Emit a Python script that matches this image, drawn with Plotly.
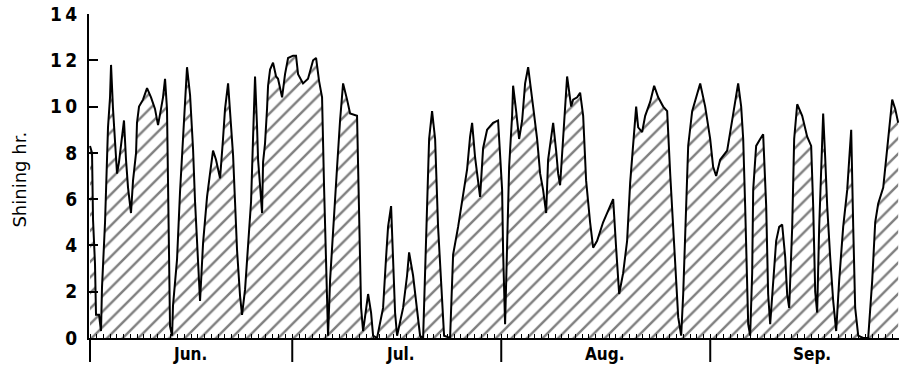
import plotly.graph_objects as go

# Daily sunshine duration, June to September (day 0 = 1 June)
day = [0, 0.30, 0.45, 0.74, 0.89, 1.34, 1.63, 1.78, 2.23, 2.52, 2.67, 2.97, 3.12, 3.41, 3.71,
       4.01, 4.30, 4.75, 5.04, 5.34, 5.64, 6.08, 6.38, 6.83, 6.97, 7.27, 7.86, 8.46, 9.05, 9.64,
       10.09, 10.53, 10.83, 11.13, 11.42, 11.87, 12.17, 12.31, 12.91, 13.35, 13.80, 14.10, 14.39,
       14.84, 15.28, 15.58, 16.02, 16.32, 16.77, 17.36, 17.80, 18.25, 18.69, 19.29, 19.73, 20.03,
       20.48, 20.77, 21.22, 21.51, 21.81, 22.26, 22.55, 23.00, 23.44, 23.89, 24.18, 24.33, 24.48,
       24.78, 24.93, 25.22, 25.52, 25.67, 25.96, 26.26, 26.41, 26.71, 27.15, 27.60, 27.89, 28.49,
       28.93, 29.38, 30.12, 30.56, 30.86, 31.60, 32.34, 33.09, 33.53, 33.98, 34.42, 34.72, 35.16,
       35.31, 35.61, 36.05, 36.65, 37.09, 37.54, 38.13, 38.58, 39.61, 39.91, 40.21, 40.51, 40.95,
       41.25, 41.69, 41.99, 42.58, 43.47, 43.92, 44.21, 44.66, 44.96, 45.25, 45.55, 46.44, 47.03,
       47.33, 47.92, 48.52, 48.96, 49.41, 50.00, 50.30, 50.74, 51.19, 51.63, 52.23, 52.52, 53.41,
       53.86, 54.60, 55.34, 55.94, 56.38, 56.68, 57.12, 57.57, 57.86, 58.31, 58.90, 59.79, 60.53,
       61.13, 61.28, 61.57, 61.87, 62.17, 62.61, 62.76, 63.21, 63.65, 64.10, 64.54, 64.99, 65.28,
       65.73, 66.32, 66.77, 67.21, 67.66, 67.95, 68.40, 68.70, 69.14, 69.44, 69.73, 70.18, 70.48,
       70.77, 71.37, 71.66, 72.26, 72.70, 73.15, 73.59, 74.18, 74.63, 75.22, 76.11, 77.15, 77.60,
       78.04, 78.49, 79.08, 79.67, 80.12, 80.56, 81.01, 81.31, 81.90, 82.35, 83.09, 83.68, 84.28,
       85.02, 85.61, 86.06, 86.50, 86.95, 87.25, 87.69, 87.99, 88.43, 88.73, 89.32, 90.06, 90.51,
       91.25, 91.99, 92.43, 92.88, 93.47, 94.51, 95.25, 96.00, 96.14, 96.59, 96.89, 97.18, 97.48,
       97.63, 97.92, 98.22, 98.37, 98.81, 99.41, 99.85, 100.30, 100.59, 100.89, 101.34, 101.78,
       102.23, 102.67, 103.12, 103.41, 103.71, 104.16, 104.45, 104.90, 105.64, 106.38, 106.97,
       107.27, 107.57, 107.86, 108.16, 108.46, 108.75, 109.05, 109.35, 109.79, 110.24, 110.68,
       111.13, 111.72, 112.32, 112.61, 112.91, 113.21, 113.50, 113.95, 114.69, 115.43, 116.03,
       116.47, 116.91, 117.66, 118.10, 118.55, 118.99, 119.44, 119.88]

hours = [8.3, 8.0, 5.1, 3.2, 1.0, 1.0, 0.3, 2.2, 5.0, 7.7, 9.1, 10.4, 11.8, 9.9, 8.6,
         7.1, 7.6, 8.7, 9.4, 7.7, 6.5, 5.4, 6.8, 8.0, 9.3, 10.0, 10.3, 10.8, 10.4, 9.9,
         9.2, 9.9, 10.4, 11.2, 9.9, 0.5, 0.1, 1.4, 3.4, 6.3, 8.5, 10.5, 11.7,
         10.5, 8.2, 5.9, 2.9, 1.6, 4.1, 6.1, 7.1, 8.1, 7.7, 6.9, 8.6, 9.9,
         11.0, 9.7, 7.9, 5.9, 3.8, 1.8, 1.0, 2.1, 3.8, 5.9, 8.6, 10.1, 11.3,
         9.1, 7.7, 6.6, 5.4, 7.6, 8.4, 9.9, 10.9, 11.6, 11.9, 11.3, 11.2, 10.4,
         11.4, 12.1, 12.2, 12.2, 11.4, 11.0, 11.2, 12.0, 12.1, 11.1, 10.4, 6.5, 1.3,
         0.1, 2.5, 4.8, 7.4, 9.4, 11.0, 10.3, 9.7, 9.6, 4.8, 1.3, 0.3, 1.3,
         1.9, 1.1, 0.1, 0.0, 1.3, 3.5, 4.8, 5.7, 3.6, 1.1, 0.1, 1.3, 2.7,
         3.7, 2.7, 1.3, 0.1, 0.0, 6.0, 8.6, 9.8, 8.6, 4.8, 1.3, 0.1, 0.0,
         3.6, 4.8, 6.3, 7.3, 8.7, 9.3, 7.8, 6.8, 6.1, 8.2, 9.0, 9.3, 9.4,
         6.4, 3.7, 0.6, 4.2, 7.4, 9.6, 10.9, 9.8, 8.6, 9.4, 11.0, 11.7, 11.1,
         10.0, 8.6, 7.1, 6.4, 5.4, 7.7, 8.6, 9.3, 8.1, 7.1, 6.6, 8.6, 10.0,
         11.3, 10.0, 10.3, 10.4, 10.6, 9.6, 6.8, 5.0, 3.9, 4.2, 5.0, 5.7, 6.0,
         3.9, 1.9, 2.8, 4.2, 6.7, 8.4, 10.0, 9.1, 8.9, 9.6, 10.2, 10.9, 10.4,
         10.0, 9.8, 7.1, 5.0, 2.5, 0.9, 0.1, 1.9, 5.7, 8.3, 9.8, 10.6, 11.0,
         10.0, 8.6, 7.4, 7.0, 7.7, 8.1, 9.4, 10.7, 11.0, 10.0, 8.6, 5.7, 2.8,
         0.6, 0.1, 2.8, 6.4, 8.3, 8.6, 8.8, 5.7, 1.9, 0.6, 2.5, 4.2,
         4.8, 4.9, 3.5, 1.9, 1.3, 4.8, 8.6, 10.1, 9.6, 8.7, 8.3,
         5.7, 2.0, 1.1, 4.8, 7.8, 9.7, 7.8, 5.7, 3.5, 1.6, 0.3,
         2.5, 4.8, 6.4, 7.7, 9.0, 4.8, 1.3, 0.1, 0.0, 0.0, 2.5,
         5.0, 5.8, 6.5, 7.8, 8.8, 10.3, 9.9, 9.3]

# Month boundaries (day index of the 1st) and label positions
month_starts = [0, 30, 61, 92]
month_centers = [14.8, 46.0, 76.4, 107.1]
month_labels = ["Jun.", "Jul.", "Aug.", "Sep."]

y_ticks = [0, 2, 4, 6, 8, 10, 12, 14]
y_tick_labels = ["0", "2", "4", "6", "8", "1\u20090", "1\u20092", "1\u20094"]

label_font = dict(family="Liberation Sans Narrow, DejaVu Sans Condensed, Arial Narrow, sans-serif",
                  size=19, color="black", weight="bold")

fig = go.Figure()
fig.add_trace(go.Scatter(
    x=day, y=hours, mode="lines",
    line=dict(color="black", width=2),
    fill="tozeroy", fillcolor="white",
    fillpattern=dict(shape="/", size=11, solidity=0.22, fgcolor="black", bgcolor="white"),
    hoverinfo="skip", showlegend=False,
))

# Month separator ticks below the axis
for m in month_starts:
    fig.add_shape(type="line", xref="x", yref="paper", x0=m, x1=m, y0=0, y1=-0.074,
                  line=dict(color="black", width=2))

for c, lab in zip(month_centers, month_labels):
    fig.add_annotation(x=c, y=-0.05, xref="x", yref="paper", text=lab, showarrow=False,
                       font=dict(label_font, size=17), xanchor="center", yanchor="middle")

fig.add_annotation(x=-0.086, y=0.49, xref="paper", yref="paper", text="Shining hr.",
                   textangle=-90, showarrow=False, xanchor="center", yanchor="middle",
                   font=dict(family="DejaVu Sans, sans-serif", size=18, color="black"))

fig.update_layout(
    width=899, height=372,
    margin=dict(l=89, r=0, t=14, b=34, pad=0),
    paper_bgcolor="white", plot_bgcolor="white",
    xaxis=dict(range=[-0.15, 120.0], showgrid=False, zeroline=False,
               showline=True, linecolor="black", linewidth=2,
               ticks="inside", tick0=0, dtick=1, ticklen=4, tickwidth=1, tickcolor="black",
               showticklabels=False),
    yaxis=dict(range=[0, 14], showgrid=False, zeroline=False,
               showline=True, linecolor="black", linewidth=2,
               ticks="inside", tickvals=y_ticks, ticktext=y_tick_labels,
               ticklen=9, tickwidth=2, tickcolor="black",
               tickfont=label_font, ticklabelstandoff=6),
)

fig.write_html("out.html")
